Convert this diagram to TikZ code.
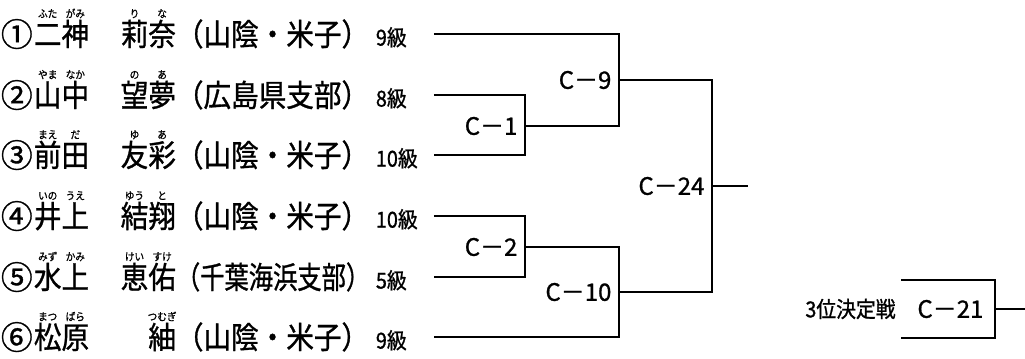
\documentclass[tikz,border=0pt]{standalone}
\usepackage{fontspec}
\usepackage{graphicx}
\setmainfont{Noto Sans CJK JP}
\newfontfamily\namefont{Noto Sans CJK JP}[FakeStretch=0.9, FakeBold=1]
\newfontfamily\matchfont{Noto Sans CJK JP}[FakeBold=1]
\usetikzlibrary{positioning}

\newsavebox\rbbox
\newcommand{\rb}[2]{\sbox\rbbox{#1}\rlap{\makebox[\wd\rbbox]{\raisebox{21pt}{\fontsize{8}{9}\selectfont #2}}}\usebox\rbbox}
\newcommand{\circnum}[1]{\raisebox{-0.5pt}{\scalebox{1.15}[1.05]{#1}}}
\newcommand{\entrant}[5]{\makebox[24.75pt][l]{\circnum{#1}}\makebox[64.5pt][l]{#2}\makebox[42pt][r]{#3}\makebox[150pt][l]{#4}\makebox[42.75pt][l]{\fontsize{16.5}{18}\selectfont #5}}

\tikzset{
	entrant/.style = {anchor=west, inner sep=0pt, font=\namefont\fontsize{23}{26}\selectfont, text height=20.2pt, text depth=2.8pt},
	match/.style = {inner sep=0pt, font=\matchfont\fontsize{18}{20}\selectfont},
}

\begin{document}
\begin{tikzpicture}[x=0.75pt, y=-0.75pt, line width=1.4pt]
	\useasboundingbox (0,0) rectangle (1025,358);

	\node[entrant] (p1) at (0,34) {\entrant{①}{\rb{二}{ふた}\rb{神}{がみ}}{\rb{莉}{り}\rb{奈}{な}}{（山陰・米子）}{9級}};
	\node[entrant] (p2) at (0,95) {\entrant{②}{\rb{山}{やま}\rb{中}{なか}}{\rb{望}{の}\rb{夢}{あ}}{（広島県支部）}{8級}};
	\node[entrant] (p3) at (0,155) {\entrant{③}{\rb{前}{まえ}\rb{田}{だ}}{\rb{友}{ゆ}\rb{彩}{あ}}{（山陰・米子）}{10級}};
	\node[entrant] (p4) at (0,216) {\entrant{④}{\rb{井}{いの}\rb{上}{うえ}}{\rb{結}{ゆう}\rb{翔}{と}}{（山陰・米子）}{10級}};
	\node[entrant] (p5) at (0,277) {\entrant{⑤}{\rb{水}{みず}\rb{上}{かみ}}{\rb{恵}{けい}\rb{佑}{すけ}}{\scalebox{0.88}[1]{（千葉海浜支部）}}{5級}};
	\node[entrant] (p6) at (0,337) {\entrant{⑥}{\rb{松}{まつ}\rb{原}{ばら}}{\rb{紬}{つむぎ}}{（山陰・米子）}{9級}};

	\coordinate (m1) at (525,126);
	\coordinate (m2) at (525,247);
	\coordinate (m9) at (619,80);
	\coordinate (m10) at (619,292);
	\coordinate (m24) at (712,186);
	\coordinate (w24) at (748,186);
	\coordinate (m21) at (995,309);
	\coordinate (w21) at (1025,309);
	\coordinate (t1) at (901,280);
	\coordinate (t2) at (901,338);

	\node[match, left=5pt of m1] (c1) {C－1};
	\node[match, left=5pt of m2] (c2) {C－2};
	\node[match, left=5pt of m9] (c9) {C－9};
	\node[match, left=5pt of m10] (c10) {C－10};
	\node[match, left=5pt of m24] (c24) {C－24};
	\node[match, left=8pt of m21] (c21) {C－21};
	\node[match, font=\namefont\fontsize{16.5}{18}\selectfont, left=15pt of c21] (third) {3位決定戦};

	\draw (p2.east) -| (m1) |- (p3.east);
	\draw (p1.east) -| (m9) |- (m1);
	\draw (p4.east) -| (m2) |- (p5.east);
	\draw (m2) -| (m10) |- (p6.east);
	\draw (m9) -| (m24) |- (m10);
	\draw (m24) -- (w24);
	\draw (t1) -| (m21) |- (t2);
	\draw (m21) -- (w21);
\end{tikzpicture}
\end{document}
